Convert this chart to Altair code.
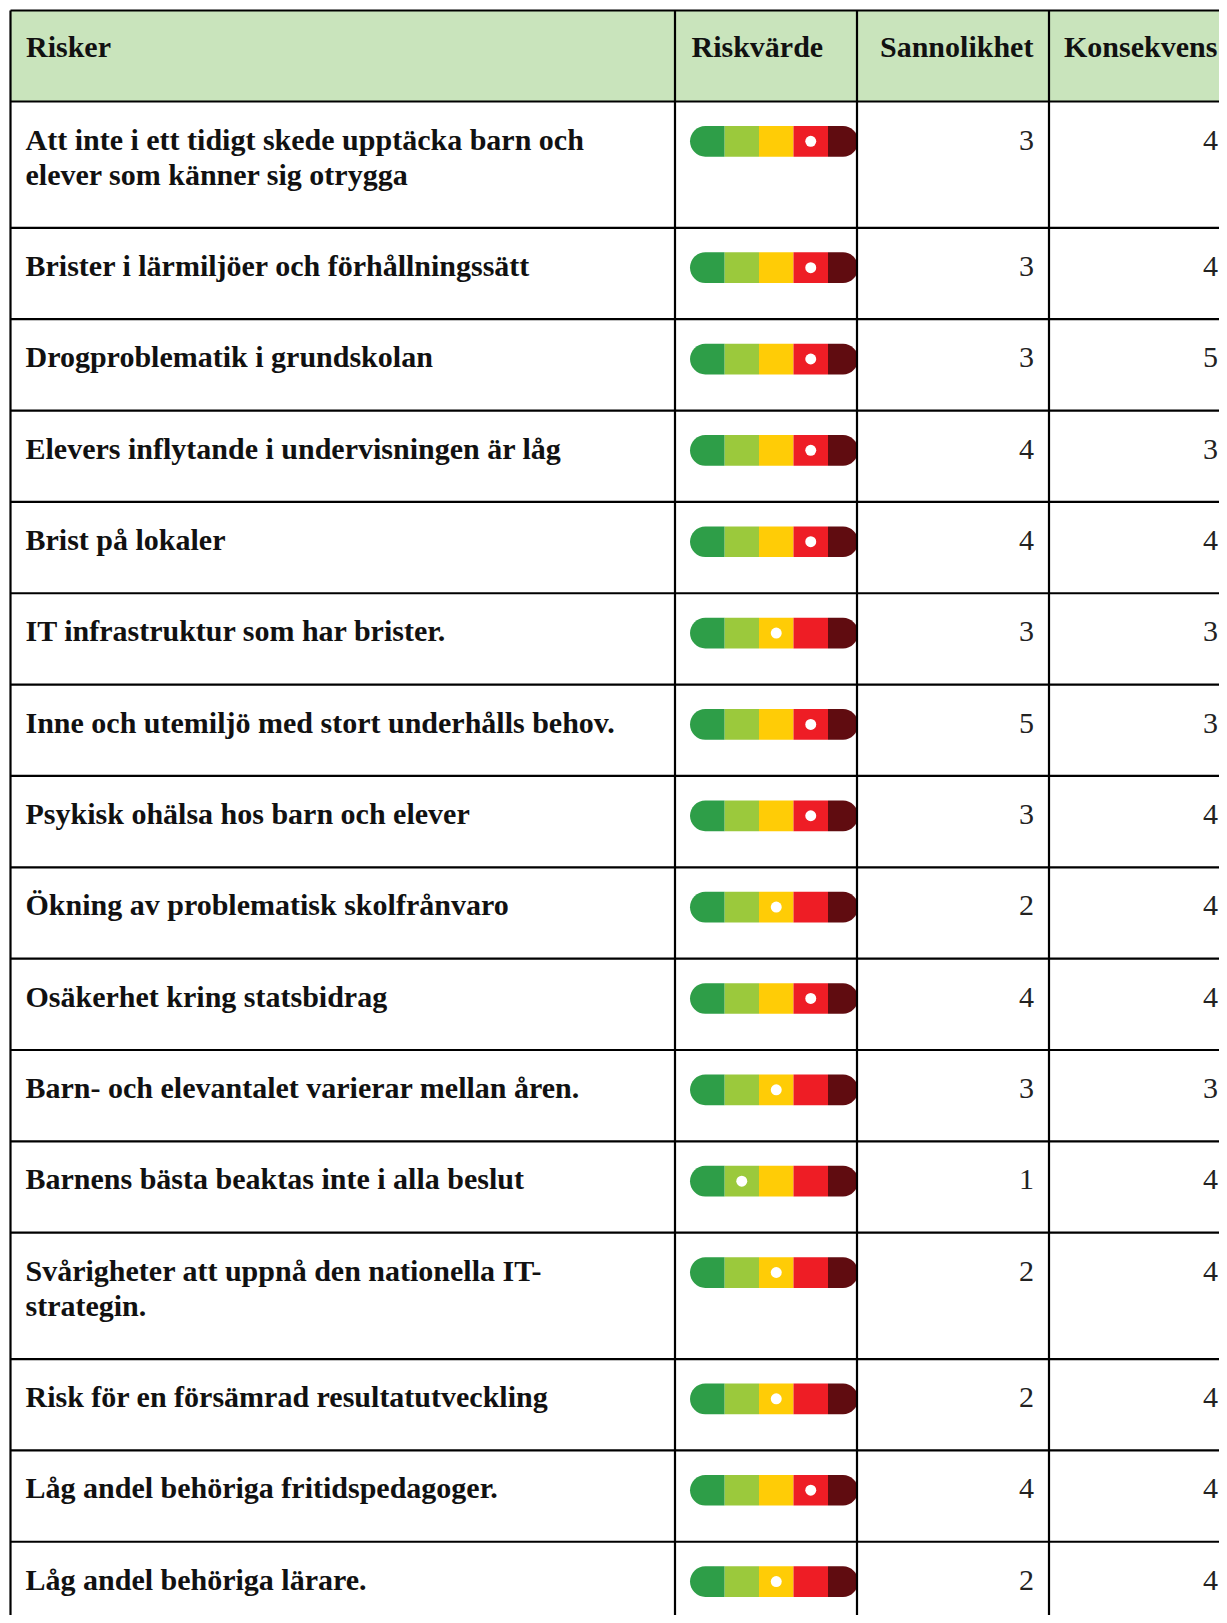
import altair as alt
import pandas as pd

# ---------------- data ----------------
headers = ["Risker", "Riskvärde", "Sannolikhet", "Konsekvens"]
risks = [
    "Att inte i ett tidigt skede upptäcka barn och\nelever som känner sig otrygga",
    "Brister i lärmiljöer och förhållningssätt",
    "Drogproblematik i grundskolan",
    "Elevers inflytande i undervisningen är låg",
    "Brist på lokaler",
    "IT infrastruktur som har brister.",
    "Inne och utemiljö med stort underhålls behov.",
    "Psykisk ohälsa hos barn och elever",
    "Ökning av problematisk skolfrånvaro",
    "Osäkerhet kring statsbidrag",
    "Barn- och elevantalet varierar mellan åren.",
    "Barnens bästa beaktas inte i alla beslut",
    "Svårigheter att uppnå den nationella IT-\nstrategin.",
    "Risk för en försämrad resultatutveckling",
    "Låg andel behöriga fritidspedagoger.",
    "Låg andel behöriga lärare.",
]
riskvarde = [4, 4, 4, 4, 4, 3, 4, 4, 3, 4, 3, 2, 3, 3, 4, 3]  # segment holding the dot (1..5)
sannolikhet = [3, 3, 3, 4, 4, 3, 5, 3, 2, 4, 3, 1, 2, 2, 4, 2]
konsekvens = [4, 4, 5, 3, 4, 3, 3, 4, 4, 4, 3, 4, 4, 4, 4, 4]
segment_colors = ["#2E9E48", "#9BC93C", "#FFCC06", "#EE1D25", "#600C10"]

# ---------------- layout (page pixels) ----------------
M = 8
W, H = 1227, 1623          # page size
X_END, Y_END = W - M, H - M  # drawable page area (avoid overflow)
LEFT, TOP, HEAD_BOTTOM, RIGHT = 10.5, 10.5, 101.5, X_END
COLS = [675, 857, 1049]
ROW_H, LINE_H = 91.35, 35.0
BAR_X0, SEG_W, BAR_X1 = 690.0, 34.5, 858.0
FONT = "Liberation Serif"
FS = 30

tops = []
y = HEAD_BOTTOM
for r in risks:
    tops.append(y)
    y += ROW_H + (r.count("\n")) * LINE_H
bottoms = tops[1:] + [y]

X = alt.Scale(domain=[M, X_END], nice=False, zero=False)
Y = alt.Scale(domain=[M, Y_END], nice=False, zero=False, reverse=True)

def xy(ch):
    return ch.encode(x=alt.X("x:Q", scale=X, axis=None), y=alt.Y("y:Q", scale=Y, axis=None))

# header background
head_df = pd.DataFrame([{"x": LEFT, "x2": RIGHT, "y": TOP, "y2": HEAD_BOTTOM}])
head_bg = xy(alt.Chart(head_df).mark_rect(color="#C9E4BC")).encode(x2="x2:Q", y2="y2:Q")

# risk bar segments
segs = []
dots = []
for i, t in enumerate(tops):
    for s in range(5):
        x0 = BAR_X0 + s * SEG_W
        x1 = x0 + SEG_W if s < 4 else BAR_X1
        segs.append({"row": i, "seg": s, "x": x0, "x2": x1,
                     "y": t + 24.5, "y2": t + 55.2, "color": segment_colors[s]})
    lv = riskvarde[i] - 1
    dots.append({"x": BAR_X0 + SEG_W * (lv + 0.5), "y": t + 39.8})
seg_df = pd.DataFrame(segs)
dot_df = pd.DataFrame(dots)

def seg_layer(ch):
    return xy(ch).encode(x2="x2:Q", y2="y2:Q", color=alt.Color("color:N", scale=None))

mid = seg_layer(alt.Chart(seg_df).mark_rect().transform_filter("datum.seg > 0 && datum.seg < 4"))
first = seg_layer(alt.Chart(seg_df).mark_rect(cornerRadiusTopLeft=15.5, cornerRadiusBottomLeft=15.5)
                  .transform_filter("datum.seg == 0"))
last = seg_layer(alt.Chart(seg_df).mark_rect(cornerRadiusTopRight=15.5, cornerRadiusBottomRight=15.5)
                 .transform_filter("datum.seg == 4"))

dot_layer = xy(alt.Chart(dot_df).mark_point(filled=True, color="white", opacity=1, size=120, shape="circle"))

# grid lines
lines = [{"x": LEFT, "x2": RIGHT, "y": TOP, "y2": TOP},
         {"x": LEFT, "x2": RIGHT, "y": HEAD_BOTTOM, "y2": HEAD_BOTTOM}]
for b in bottoms:
    if b < Y_END:
        lines.append({"x": LEFT, "x2": RIGHT, "y": b, "y2": b})
for cx in [LEFT] + COLS:
    lines.append({"x": cx, "x2": cx, "y": TOP, "y2": Y_END})
line_df = pd.DataFrame(lines)
grid = xy(alt.Chart(line_df).mark_rule(color="black", strokeWidth=2.2)).encode(x2="x2:Q", y2="y2:Q")

# texts
txt = []
for i, (r, t) in enumerate(zip(risks, tops)):
    for j, line in enumerate(r.split("\n")):
        txt.append({"x": 25.5, "y": t + 39 + j * LINE_H, "text": line})
txt_df = pd.DataFrame(txt)
risk_text = xy(alt.Chart(txt_df).mark_text(
    align="left", baseline="middle", font=FONT, fontSize=FS, fontWeight="bold", color="#111111"
)).encode(text="text:N")

nums = []
for i, t in enumerate(tops):
    nums.append({"x": 1034, "y": t + 39, "text": str(sannolikhet[i])})
    nums.append({"x": 1218, "y": t + 39, "text": str(konsekvens[i])})
num_df = pd.DataFrame(nums)
num_text = xy(alt.Chart(num_df).mark_text(
    align="right", baseline="middle", font=FONT, fontSize=FS, color="#222222"
)).encode(text="text:N")

head_x = [26, 691.5, 880, 1064]
head_df2 = pd.DataFrame([{"x": hx, "y": 48, "text": h} for hx, h in zip(head_x, headers)])
head_text = xy(alt.Chart(head_df2).mark_text(
    align="left", baseline="middle", font=FONT, fontSize=FS, fontWeight="bold", color="#111111"
)).encode(text="text:N")

chart = alt.layer(head_bg, mid, first, last, dot_layer, grid, risk_text, num_text, head_text).properties(
    width=X_END - M, height=Y_END - M, padding=0, autosize=alt.AutoSizeParams(type="none")
).configure_view(stroke=None)

chart.save("out.html", embed_options={"renderer": "svg", "actions": False})
